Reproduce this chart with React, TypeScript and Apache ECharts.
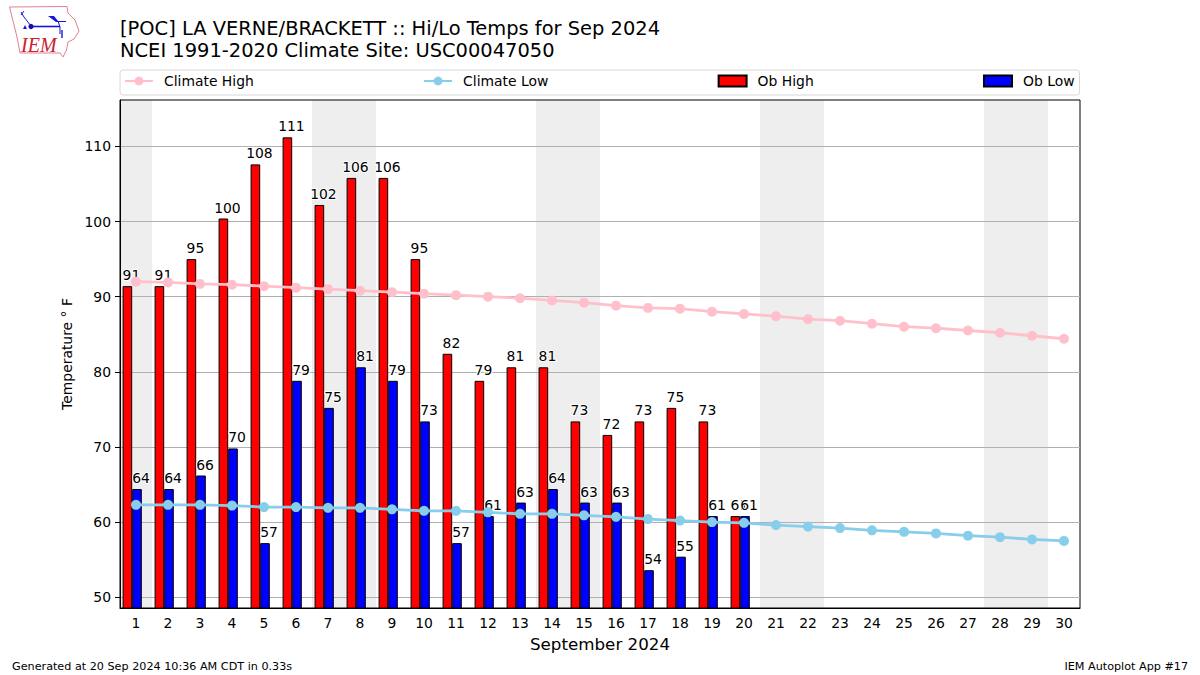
import React, { useEffect, useRef } from "react";
import * as echarts from "echarts";

const days = ["1","2","3","4","5","6","7","8","9","10","11","12","13","14","15","16","17","18","19","20","21","22","23","24","25","26","27","28","29","30"];
const obHigh = [91.4,91.4,95,100.4,107.6,111.2,102.2,105.8,105.8,95,82.4,78.8,80.6,80.6,73.4,71.6,73.4,75.2,73.4,60.8];
const obLow = [64.4,64.4,66.2,69.8,57.2,78.8,75.2,80.6,78.8,73.4,57.2,60.8,62.6,64.4,62.6,62.6,53.6,55.4,60.8,60.8];
const obHighLabels = ["91","91","95","100","108","111","102","106","106","95","82","79","81","81","73","72","73","75","73","61"];
const obLowLabels = ["64","64","66","70","57","79","75","81","79","73","57","61","63","64","63","63","54","55","61","61"];
const climateHigh = [92.0,91.9,91.7,91.6,91.4,91.2,91.0,90.8,90.6,90.4,90.2,90.0,89.8,89.5,89.2,88.8,88.5,88.4,88.0,87.7,87.4,87.0,86.8,86.4,86.0,85.8,85.5,85.2,84.8,84.4];
const climateLow = [62.3,62.3,62.3,62.2,62.0,62.0,61.9,61.9,61.7,61.5,61.5,61.3,61.1,61.1,60.9,60.7,60.4,60.2,60.0,59.9,59.6,59.4,59.2,58.9,58.7,58.5,58.2,58.0,57.7,57.5];
const yTicks = [50,60,70,80,90,100,110];
const weekends = [[0.5,1.5],[6.5,8.5],[13.5,15.5],[20.5,22.5],[27.5,29.5]];

const FONT = "DejaVu Sans";

function barLabel(labels: string[]) {
  return {
    show: true,
    position: "top",
    distance: 4,
    offset: [4, 0],
    fontFamily: FONT,
    fontSize: 13.9,
    color: "#000",
    textBorderColor: "#fff",
    textBorderWidth: 2,
    formatter: (p: any) => labels[p.dataIndex],
  };
}

export default function App() {
  const ref = useRef<HTMLDivElement>(null);
  useEffect(() => {
    const chart = echarts.init(ref.current!, null, { renderer: "svg" });
    const logoRed = "#e28090";
    const logoBlue = "#1616d8";
    chart.setOption({
      animation: false,
      backgroundColor: "#fff",
      textStyle: { fontFamily: FONT },
      title: {
        left: 120,
        top: 17,
        padding: 0,
        text: "[POC] LA VERNE/BRACKETT :: Hi/Lo Temps for Sep 2024\nNCEI 1991-2020 Climate Site: USC00047050",
        textStyle: { fontFamily: FONT, fontSize: 19.45, fontWeight: "normal", color: "#000", lineHeight: 22 },
      },
      legend: {
        left: 120,
        top: 70,
        width: 960,
        padding: [4, 5, 7, 4],
        itemGap: 169.3,
        itemWidth: 28,
        itemHeight: 11,
        borderColor: "#d8d8d8",
        borderWidth: 1,
        borderRadius: 3,
        selectedMode: false,
        textStyle: { fontFamily: FONT, fontSize: 13.9, color: "#000", padding: [0, 0, 0, 6] },
        data: [
          { name: "Climate High" },
          { name: "Climate Low" },
          { name: "Ob High", icon: "rect" },
          { name: "Ob Low", icon: "rect" },
        ],
      },
      grid: { left: 120, top: 100, width: 960, height: 508, show: true, borderColor: "#000", borderWidth: 1, containLabel: false },
      xAxis: [
        {
          type: "category",
          data: days,
          name: "September 2024",
          nameLocation: "middle",
          nameGap: 27,
          nameTextStyle: { fontFamily: FONT, fontSize: 16.7, color: "#000" },
          axisLine: { lineStyle: { color: "#000", width: 1 } },
          axisTick: { alignWithLabel: true, length: 5, lineStyle: { color: "#000" } },
          axisLabel: { interval: 0, margin: 8, fontFamily: FONT, fontSize: 13.9, color: "#000" },
          splitLine: { show: false },
        },
        { type: "value", min: 0.5, max: 30.5, show: false },
      ],
      yAxis: {
        type: "value",
        min: 48.57,
        max: 116.17,
        name: "Temperature ° F",
        nameLocation: "middle",
        nameRotate: 90,
        nameGap: 46,
        nameTextStyle: { fontFamily: FONT, fontSize: 13.9, color: "#000" },
        axisLine: { show: true, lineStyle: { color: "#000", width: 1 } },
        axisTick: { show: true, length: 5, lineStyle: { color: "#000" }, customValues: yTicks },
        axisLabel: { margin: 9, fontFamily: FONT, fontSize: 13.9, color: "#000", customValues: yTicks },
        splitLine: { show: true, lineStyle: { color: "#b0b0b0", width: 1 } },
      },
      series: [
        {
          name: "weekends",
          type: "line",
          xAxisIndex: 1,
          yAxisIndex: 0,
          data: [],
          silent: true,
          markArea: {
            silent: true,
            z: -1,
            itemStyle: { color: "#eeeeee" },
            data: weekends.map((w) => [{ xAxis: w[0] }, { xAxis: w[1] }]),
          },
        },
        {
          name: "Ob High",
          type: "bar",
          data: obHigh,
          barWidth: 9.6,
          barGap: 0,
          itemStyle: { color: "#ff0000", borderColor: "#000", borderWidth: 1 },
          label: barLabel(obHighLabels),
          z: 3,
        },
        {
          name: "Ob Low",
          type: "bar",
          data: obLow,
          barWidth: 9.6,
          barGap: 0,
          itemStyle: { color: "#0000ff", borderColor: "#000", borderWidth: 1 },
          label: barLabel(obLowLabels),
          z: 3,
        },
        { name: "spacer", type: "bar", data: [], barWidth: 7.6, barGap: 0 },
        {
          name: "Climate High",
          type: "line",
          data: climateHigh,
          symbol: "circle",
          symbolSize: 10,
          lineStyle: { color: "#ffc0cb", width: 2.8 },
          itemStyle: { color: "#ffc0cb" },
          z: 3,
        },
        {
          name: "Climate Low",
          type: "line",
          data: climateLow,
          symbol: "circle",
          symbolSize: 10,
          lineStyle: { color: "#87ceeb", width: 2.8 },
          itemStyle: { color: "#87ceeb" },
          z: 3,
        },
      ],
      graphic: [
        { type: "text", left: 12, top: 661, style: { text: "Generated at 20 Sep 2024 10:36 AM CDT in 0.33s", fontFamily: FONT, fontSize: 11.2, fill: "#000" } },
        { type: "text", right: 12, top: 661, style: { text: "IEM Autoplot App #17", fontFamily: FONT, fontSize: 11.2, fill: "#000" } },
        {
          type: "polygon",
          shape: { points: [[9.5,7],[67,6.5],[68,13],[75,20],[79,31],[74,39],[68,42],[66.5,50],[63,57],[60,53],[20,53],[17,37]] },
          style: { fill: "#fff", stroke: logoRed, lineWidth: 1 },
        },
        { type: "line", shape: { x1: 30, y1: 26.5, x2: 60, y2: 26.5 }, style: { stroke: logoBlue, lineWidth: 1.6 } },
        { type: "circle", shape: { cx: 31, cy: 26.5, r: 2.6 }, style: { fill: "#1010b0" } },
        { type: "polyline", shape: { points: [[31,26],[24,17],[21,12]] }, style: { stroke: logoBlue, lineWidth: 1, fill: "none" } },
        { type: "polyline", shape: { points: [[21,15],[24,11]] }, style: { stroke: logoBlue, lineWidth: 1, fill: "none" } },
        { type: "polygon", shape: { points: [[48,16],[54,16],[58,21],[66,21],[66,22],[56,22]] }, style: { fill: logoBlue } },
        { type: "polyline", shape: { points: [[58,21],[60,27],[60,34]] }, style: { stroke: logoBlue, lineWidth: 1, fill: "none" } },
        { type: "polyline", shape: { points: [[62,30],[62,38]] }, style: { stroke: logoBlue, lineWidth: 1.4, fill: "none" } },
        { type: "polygon", shape: { points: [[23,29],[25,25],[27,29]] }, style: { fill: logoBlue } },
        { type: "text", x: 21, y: 35, style: { text: "IEM", fontFamily: "Liberation Serif", fontStyle: "italic", fontSize: 20, fill: "#cc2030" } },
      ],
    });
    return () => chart.dispose();
  }, []);
  return <div ref={ref} style={{ position: "fixed", left: 0, top: 0, width: 1200, height: 675 }} />;
}
